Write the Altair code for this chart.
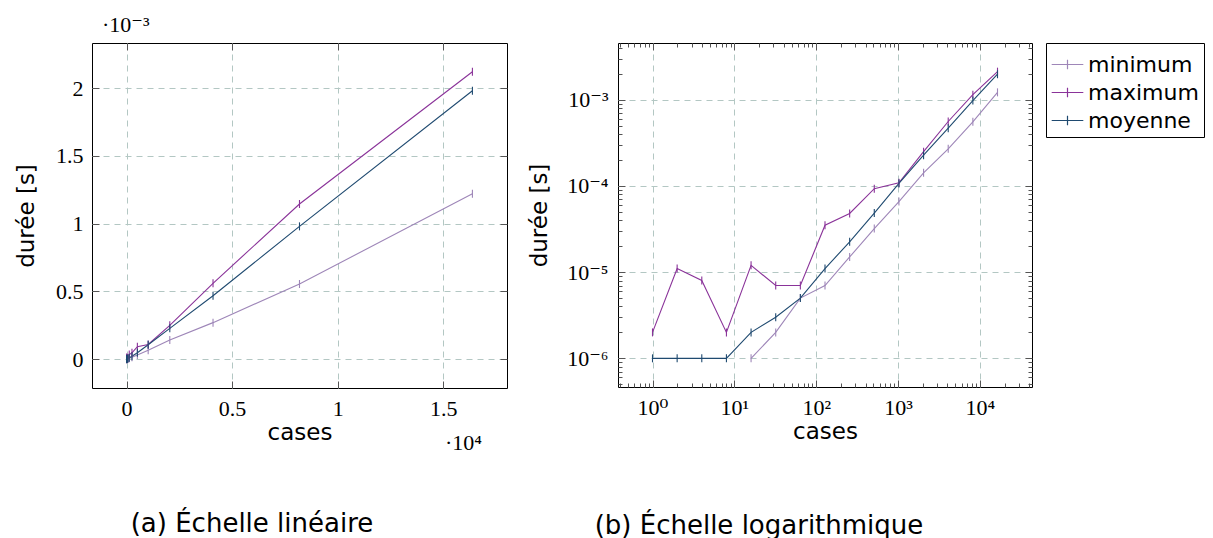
import altair as alt
import pandas as pd

# ---- data ----
cases = [1, 2, 4, 8, 16, 32, 64, 128, 256, 512, 1024, 2048, 4096, 8192, 16384]
minimum = [0, 0, 0, 0, 1.0e-6, 2.0e-6, 5.0e-6, 7.0e-6, 1.5e-5, 3.2e-5, 6.6e-5,
           1.42e-4, 2.7e-4, 5.55e-4, 1.22e-3]
maximum = [2.0e-6, 1.1e-5, 8.0e-6, 2.0e-6, 1.2e-5, 7.0e-6, 7.0e-6, 3.5e-5, 4.8e-5,
           9.3e-5, 1.09e-4, 2.5e-4, 5.6e-4, 1.145e-3, 2.12e-3]
moyenne = [1.0e-6, 1.0e-6, 1.0e-6, 1.0e-6, 2.0e-6, 3.0e-6, 5.0e-6, 1.1e-5, 2.25e-5,
           4.85e-5, 1.07e-4, 2.28e-4, 4.68e-4, 9.8e-4, 1.98e-3]
series = ["minimum", "maximum", "moyenne"]
colors = ["#9e86b8", "#8a3399", "#1f4a70"]

lin_x_ticks = [0, 5000, 10000, 15000]
lin_y_ticks = [0, 0.0005, 0.001, 0.0015, 0.002]
log_x_ticks = [1, 10, 100, 1000, 10000]
log_y_ticks = [1e-6, 1e-5, 1e-4, 1e-3]
log_x_minor = [0.4, 0.5, 0.6, 0.7, 0.8, 0.9,
               2, 3, 4, 5, 6, 7, 8, 9,
               20, 30, 40, 50, 60, 70, 80, 90,
               200, 300, 400, 500, 600, 700, 800, 900,
               2000, 3000, 4000, 5000, 6000, 7000, 8000, 9000,
               20000, 30000, 40000]
log_y_minor = [5e-7, 6e-7, 7e-7, 8e-7, 9e-7,
               2e-6, 3e-6, 4e-6, 5e-6, 6e-6, 7e-6, 8e-6, 9e-6,
               2e-5, 3e-5, 4e-5, 5e-5, 6e-5, 7e-5, 8e-5, 9e-5,
               2e-4, 3e-4, 4e-4, 5e-4, 6e-4, 7e-4, 8e-4, 9e-4,
               2e-3, 3e-3, 4e-3]

rows = []
for name, vals in zip(series, [minimum, maximum, moyenne]):
    for c, v in zip(cases, vals):
        rows.append({"cases": c, "serie": name, "duree": v})
df_lin = pd.DataFrame(rows)
df_log = df_lin[df_lin["duree"] > 0].reset_index(drop=True)

SERIF = "Liberation Serif, DejaVu Serif, serif"
SANS = "DejaVu Sans, sans-serif"
W, H = 415, 345
MAJ, MIN = 7, 4

cscale = alt.Scale(domain=series, range=colors)
legend = alt.Legend(title=None, orient="right", offset=13,
                    symbolType="M-1,0H1M0,-0.3V0.3", symbolSize=1000,
                    symbolStrokeWidth=1.2, labelFont=SANS, labelFontSize=22,
                    labelOffset=4, rowPadding=0, padding=5,
                    strokeColor="black", fillColor="white", cornerRadius=0)
color_enc = alt.Color("serie:N", scale=cscale, legend=legend)
tick_shape = "M0,-1V1"


def tick_axis(orient, values, size):
    return alt.Axis(orient=orient, values=values, labels=False, ticks=True,
                    tickSize=size, offset=-size, domain=False, grid=False,
                    title=None, tickColor="#555", tickWidth=1)


def panel(df, xs, ys, xt, yt, xlab, ylab, ytitle_pad, ylab_pad,
          xminor=None, yminor=None):
    main_x = alt.X("cases:Q", scale=xs,
                   axis=alt.Axis(values=xt, labelExpr=xlab, grid=True, ticks=False,
                                 domain=False, title="cases", labelPadding=10,
                                 titlePadding=2))
    main_y = alt.Y("duree:Q", scale=ys,
                   axis=alt.Axis(values=yt, labelExpr=ylab, grid=True, ticks=False,
                                 domain=False, title="durée [s]",
                                 labelPadding=ylab_pad, titlePadding=ytitle_pad))
    line = alt.Chart(df).mark_line(strokeWidth=1.1).encode(
        x=main_x, y=main_y, color=color_enc)
    pts = alt.Chart(df).mark_point(shape=tick_shape, size=64, filled=False,
                                   strokeWidth=1.1, opacity=1).encode(
        x=alt.X("cases:Q", scale=xs, axis=tick_axis("top", xt, MAJ)),
        y=alt.Y("duree:Q", scale=ys, axis=tick_axis("right", yt, MAJ)),
        color=color_enc)
    inner = alt.Chart(df).mark_point(opacity=0).encode(
        x=alt.X("cases:Q", scale=xs, axis=tick_axis("bottom", xt, MAJ)),
        y=alt.Y("duree:Q", scale=ys, axis=tick_axis("left", yt, MAJ)))
    layers = [line, pts, inner]
    if xminor is not None:
        m1 = alt.Chart(df).mark_point(opacity=0).encode(
            x=alt.X("cases:Q", scale=xs, axis=tick_axis("bottom", xminor, MIN)),
            y=alt.Y("duree:Q", scale=ys, axis=tick_axis("left", yminor, MIN)))
        m2 = alt.Chart(df).mark_point(opacity=0).encode(
            x=alt.X("cases:Q", scale=xs, axis=tick_axis("top", xminor, MIN)),
            y=alt.Y("duree:Q", scale=ys, axis=tick_axis("right", yminor, MIN)))
        layers += [m1, m2]
    return layers


def text_layer(txt, x, y, size, font, align="left"):
    return alt.Chart(pd.DataFrame({"t": [txt]})).mark_text(
        font=font, fontSize=size, align=align, baseline="alphabetic",
        color="black").encode(text="t:N", x=alt.value(x), y=alt.value(y))


lin_layers = panel(
    df_lin,
    alt.Scale(type="linear", domain=[-1637.3, 18022.3], nice=False, zero=False),
    alt.Scale(type="linear", domain=[-0.000212, 0.002332], nice=False, zero=False),
    lin_x_ticks, lin_y_ticks,
    "format(datum.value/10000, '.1~f')",
    "format(datum.value*1000, '.1~f')",
    17, 9)
lin_layers += [
    text_layer("·10⁻³", 10, -11, 22, SERIF),
    text_layer("·10⁴", 353, 407, 22, SERIF),
    text_layer("(a) Échelle linéaire", 160, 489, 26, SANS, "center"),
]
left = alt.layer(*lin_layers).resolve_axis(x="independent", y="independent") \
    .properties(width=W, height=H)

log_layers = panel(
    df_log,
    alt.Scale(type="log", domain=[0.3789, 43236], nice=False),
    alt.Scale(type="log", domain=[4.650e-7, 4.560e-3], nice=False),
    log_x_ticks, log_y_ticks,
    "'10' + ['⁰','¹','²','³','⁴'][round(log(datum.value)/LN10)]",
    "'10' + ['⁻⁶','⁻⁵','⁻⁴','⁻³'][round(log(datum.value)/LN10)+6]",
    15, 10,
    log_x_minor, log_y_minor)
log_layers += [
    text_layer("(b) Échelle logarithmique", 141, 491, 26, SANS, "center"),
]
right = alt.layer(*log_layers).resolve_axis(x="independent", y="independent") \
    .properties(width=W - 1, height=H - 1)

chart = alt.hconcat(left, right, spacing=111, bounds="flush").properties(
    padding={"left": 7, "top": 5, "right": 0, "bottom": 0}
).configure_view(stroke="black", strokeWidth=1).configure_axis(
    labelFont=SERIF, labelFontSize=22, labelColor="black",
    titleFont=SANS, titleFontSize=23, titleFontWeight="normal", titleColor="black",
    gridColor="#b3c7c3", gridDash=[6, 5], gridWidth=1,
).configure_legend(symbolFillColor="transparent")

chart.save("out.html", embed_options={"renderer": "svg", "actions": False})
